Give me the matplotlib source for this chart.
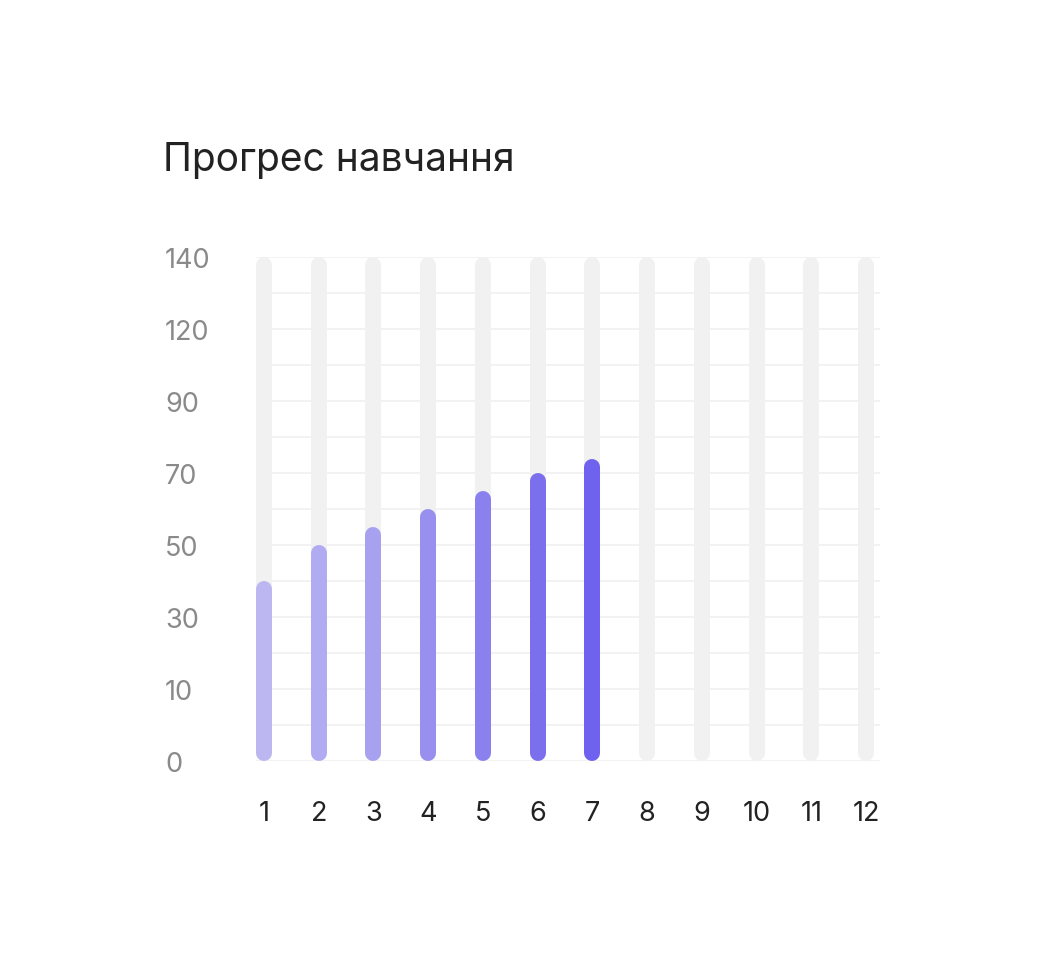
import numpy as np
import matplotlib
matplotlib.use("Agg")
import matplotlib.pyplot as plt

# дані
months = [str(i) for i in range(1, 13)]
progress = [40, 50, 55, 60, 65, 70, 74]
y_ticks = [0, 10, 30, 50, 70, 90, 120, 140]
y_mid = [5, 20, 40, 60, 80, 105, 130]
bar_colors = ['#bcb7f1', '#b1acf1', '#a8a1f0', '#988fef', '#8a80ee', '#7b6fee', '#6f62ee']
track_max = 140

plt.rcParams['font.family'] = ['Inter', 'DejaVu Sans']

W, H = 1046, 962
fig = plt.figure(figsize=(W / 100, H / 100), dpi=100)

# осі в пікселях: сітка від 256 до 880 по x, від 762 до 258 по y
left, right, bottom, top = 256, 880, 762, 258
ax = fig.add_axes([left / W, (H - bottom) / H, (right - left) / W, (bottom - top) / H])

# нерівномірна шкала: кожна мітка на однаковій відстані
pos = np.arange(len(y_ticks))
fwd = lambda v: np.interp(v, y_ticks, pos)
inv = lambda p: np.interp(p, pos, y_ticks)
ax.set_yscale('function', functions=(fwd, inv))
ax.set_ylim(0, track_max)

x = np.arange(1, len(months) + 1)
step_px = (866 - 264) / 11
ax.set_xlim(1 - 8 / step_px, len(months) + 14 / step_px)

px_per_unit = (bottom - top) / (len(y_ticks) - 1)
bar_px = 16
r = (bar_px / 2) / px_per_unit
lw = bar_px * 72 / 100


def rounded_bar(xi, value, color):
    y0 = inv(fwd(0) + r)
    y1 = inv(fwd(value) - r)
    ax.plot([xi, xi], [y0, y1], color=color, lw=lw, solid_capstyle='round',
            zorder=3, clip_on=False)


for xi in x:
    rounded_bar(xi, track_max, '#f1f1f1')
for xi, v, c in zip(x, progress, bar_colors):
    rounded_bar(xi, v, c)

ax.set_yticks(y_ticks)
ax.set_yticklabels([str(t) for t in y_ticks])
ax.set_yticks(y_mid, minor=True)
ax.grid(True, which='both', axis='y', color='#efefef', lw=1.1, zorder=0)
ax.set_axisbelow(True)

ax.set_xticks(x)
ax.set_xticklabels(months)

ax.tick_params(axis='y', which='both', length=0, labelsize=19.5, labelcolor='#8a8a8a',
               pad=(left - 165) * 0.72)
for lab in ax.get_yticklabels():
    lab.set_horizontalalignment('left')
ax.tick_params(axis='x', length=0, labelsize=19.5, labelcolor='#222222', pad=28)

for s in ax.spines.values():
    s.set_visible(False)
ax.patch.set_alpha(0)

fig.text(163 / W, (H - 171) / H, 'Прогрес навчання', fontsize=28,
         color='#222222', ha='left', va='baseline')

fig.savefig('out.png', dpi=100, facecolor='white')
